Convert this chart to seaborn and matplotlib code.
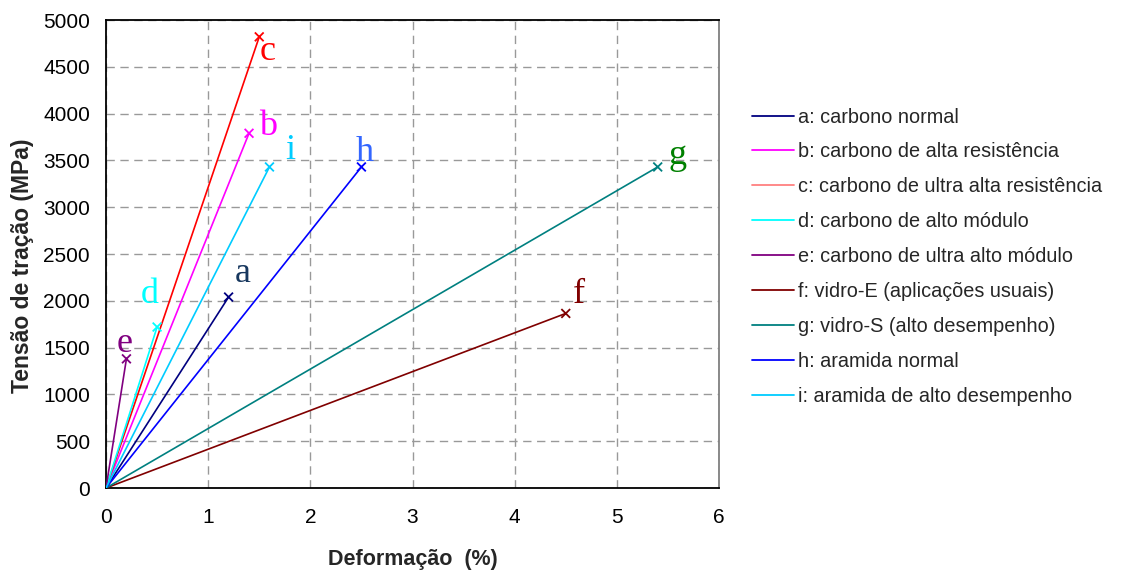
import matplotlib
matplotlib.use("Agg")
import matplotlib.pyplot as plt
import seaborn as sns
import pandas as pd
from matplotlib.lines import Line2D

# ---- data ----
letters = ["a", "b", "c", "d", "e", "f", "g", "h", "i"]
names = [
    "a: carbono normal",
    "b: carbono de alta resistência",
    "c: carbono de ultra alta resistência",
    "d: carbono de alto módulo",
    "e: carbono de ultra alto módulo",
    "f: vidro-E (aplicações usuais)",
    "g: vidro-S (alto desempenho)",
    "h: aramida normal",
    "i: aramida de alto desempenho",
]
strain_end = [1.2, 1.4, 1.5, 0.5, 0.2, 4.5, 5.4, 2.5, 1.6]
stress_end = [2040, 3790, 4820, 1720, 1380, 1865, 3430, 3430, 3430]
label_x = [1.34, 1.59, 1.585, 0.43, 0.18, 4.63, 5.59, 2.53, 1.80]
label_y = [2200, 3771, 4573, 1976, 1453, 1976, 3460, 3494, 3515]
xticks = [0, 1, 2, 3, 4, 5, 6]
yticks = [0, 500, 1000, 1500, 2000, 2500, 3000, 3500, 4000, 4500, 5000]

line_colors = ["#000080", "#FF00FF", "#FF0000", "#00FFFF", "#800080",
               "#800000", "#008080", "#0000FF", "#00CCFF"]
legend_colors = ["#000080", "#FF00FF", "#FF8080", "#00FFFF", "#800080",
                 "#800000", "#008080", "#0000FF", "#00CCFF"]
text_colors = ["#17375E", "#FF00FF", "#FF0000", "#00FFFF", "#800080",
               "#800000", "#008000", "#3366FF", "#00CCFF"]

rows = []
for n, sx, sy in zip(names, strain_end, stress_end):
    rows.append({"fibra": n, "x": 0.0, "y": 0.0})
    rows.append({"fibra": n, "x": sx, "y": sy})
df = pd.DataFrame(rows)
ends = pd.DataFrame({"fibra": names, "x": strain_end, "y": stress_end})

sns.set_style("white")
plt.rcParams["font.family"] = ["Liberation Sans", "DejaVu Sans"]

fig = plt.figure(figsize=(11.36, 5.72), dpi=100)
ax = fig.add_axes([106 / 1136, 84 / 572, 613 / 1136, 468 / 572])

palette = dict(zip(names, line_colors))
sns.lineplot(data=df, x="x", y="y", hue="fibra", palette=palette,
             estimator=None, sort=False, linewidth=1.2, legend=False, ax=ax,
             zorder=3)
sns.scatterplot(data=ends, x="x", y="y", hue="fibra", palette=palette,
                marker="x", s=40, linewidth=1.3, legend=False, ax=ax, zorder=4)

for lx, ly, t, c in zip(label_x, label_y, letters, text_colors):
    ax.text(lx, ly, t, color=c, fontsize=26, ha="center", va="baseline",
            family=["Liberation Serif", "DejaVu Serif"], zorder=5)

ax.set_xlim(0, 6)
ax.set_ylim(0, 5000)
ax.set_xticks(xticks)
ax.set_yticks(yticks)
ax.tick_params(axis="both", labelsize=15, direction="inout", length=7,
               width=1, colors="black")
ax.tick_params(axis="x", pad=11)
ax.tick_params(axis="y", pad=8)
ax.grid(True, color="#999999", linestyle=(0, (6, 4)), linewidth=1)
ax.set_axisbelow(True)
for s in ["left", "bottom", "top"]:
    ax.spines[s].set_color("black")
    ax.spines[s].set_linewidth(1.3)
ax.spines["right"].set_color("#808080")
ax.spines["right"].set_linewidth(1.3)

ax.set_xlabel("Deformação  (%)", fontsize=15.5, fontweight="bold")
ax.set_ylabel("Tensão de tração (MPa)", fontsize=16.5, fontweight="bold")
ax.xaxis.set_label_coords(0.5, -0.13)
ax.yaxis.set_label_coords(-0.117, 0.474)

handles = [Line2D([0], [0], color=c, lw=1.3) for c in legend_colors]
leg = ax.legend(handles, names, loc="upper left", bbox_to_anchor=(1.041, 0.83),
                frameon=False, fontsize=14.3, handlelength=2.1, handletextpad=0.2,
                labelspacing=0.8, borderaxespad=0)

fig.savefig("out.png", dpi=100)
